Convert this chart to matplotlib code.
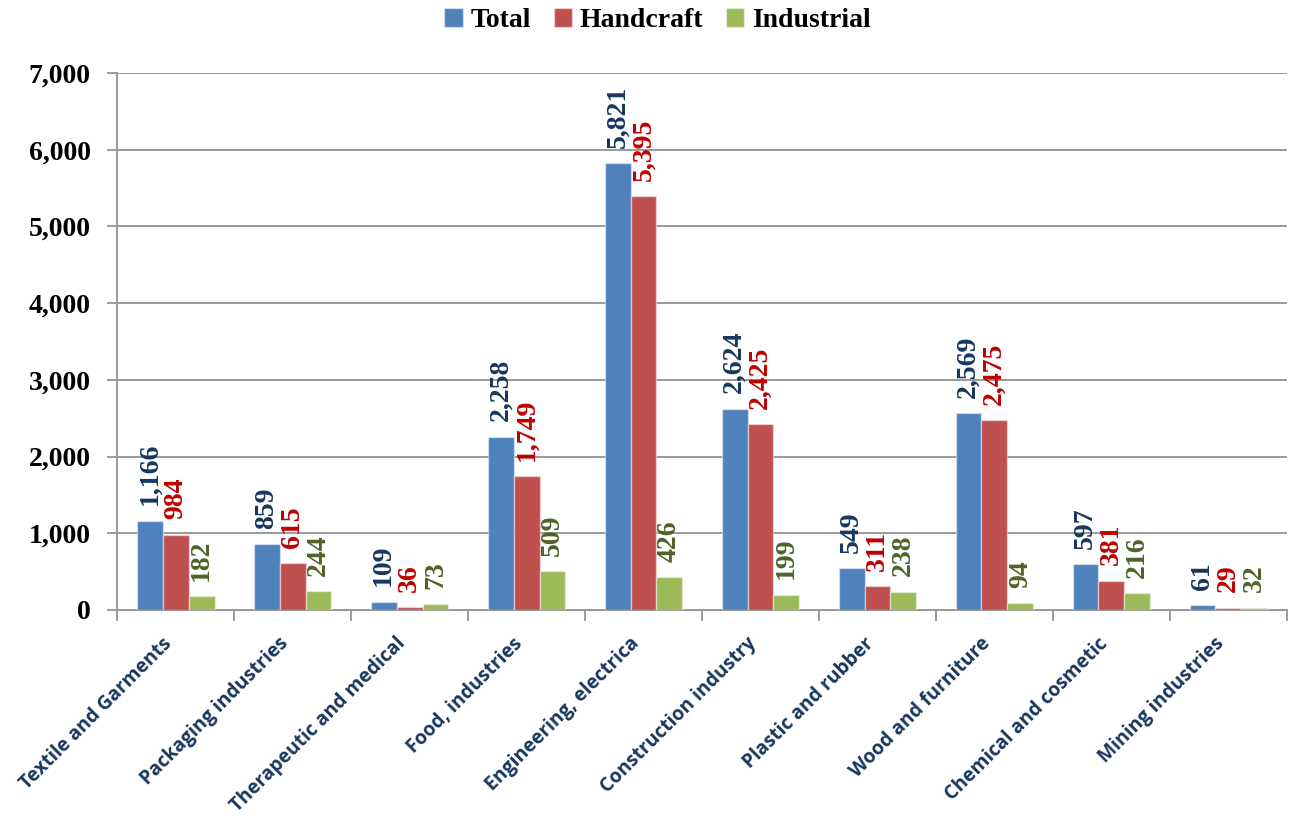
import matplotlib
matplotlib.use("Agg")
import matplotlib.pyplot as plt
import numpy as np
from matplotlib.ticker import FuncFormatter, FixedLocator

categories = ["Textile and Garments", "Packaging industries", "Therapeutic and medical",
              "Food, industries", "Engineering, electrica", "Construction industry",
              "Plastic and rubber", "Wood and furniture", "Chemical and cosmetic",
              "Mining industries"]
total = [1166, 859, 109, 2258, 5821, 2624, 549, 2569, 597, 61]
handcraft = [984, 615, 36, 1749, 5395, 2425, 311, 2475, 381, 29]
industrial = [182, 244, 73, 509, 426, 199, 238, 94, 216, 32]

series = [("Total", total, "#4F81BD", "#17375E"),
          ("Handcraft", handcraft, "#C0504D", "#C00000"),
          ("Industrial", industrial, "#9BBB59", "#4F6228")]

serif = ["Liberation Serif", "DejaVu Serif"]
grid_col = "#9A9A9A"

fig = plt.figure(figsize=(12.92, 8.19), dpi=100)
ax = fig.add_axes([0.0906, 0.2552, 0.9055, 0.6557])

x = np.arange(len(categories))
w = 0.222
for i, (name, vals, col, lab_col) in enumerate(series):
    pos = x + (i - 1) * w
    ax.bar(pos, vals, width=w, color=col, edgecolor=(1, 1, 1, 0.45), linewidth=1.0,
           label=name, zorder=3)
    for px, v in zip(pos, vals):
        ax.annotate(f"{v:,}", (px, v), xytext=(0, 11), textcoords="offset points",
                    ha="center", va="bottom", rotation=90, color=lab_col,
                    fontsize=20, fontweight="bold", family=serif, zorder=4)

ax.set_xlim(-0.5, len(categories) - 0.5)
ax.set_ylim(0, 7000)
ax.set_yticks(np.arange(0, 7001, 1000))
ax.yaxis.set_major_formatter(FuncFormatter(lambda v, p: f"{int(v):,}"))
ax.grid(axis="y", color=grid_col, linewidth=1.4, zorder=0)
ax.set_axisbelow(True)

for s in ["top", "right"]:
    ax.spines[s].set_visible(False)
for s in ["left", "bottom"]:
    ax.spines[s].set_color(grid_col)
    ax.spines[s].set_linewidth(1.4)

ax.tick_params(axis="y", length=7, width=1.4, color=grid_col, pad=12)
for t in ax.get_yticklabels():
    t.set_fontsize(20)
    t.set_fontweight("bold")
    t.set_family(serif)

ax.set_xticks(x)
ax.set_xticklabels(categories, rotation=45, ha="right", va="top",
                   fontsize=13.9, fontweight="bold", family=["Open Sans", "DejaVu Sans"],
                   color="#17375E")
ax.tick_params(axis="x", which="major", length=0, pad=17)
ax.xaxis.set_minor_locator(FixedLocator(np.arange(-0.5, len(categories), 1.0)))
ax.tick_params(axis="x", which="minor", length=8, width=1.4, color=grid_col)

leg = fig.legend(loc="center", bbox_to_anchor=(0.509, 0.975), ncol=3, frameon=False,
                 prop={"family": serif, "weight": "bold", "size": 20},
                 handlelength=0.65, handleheight=0.65, handletextpad=0.3, columnspacing=0.8)

fig.savefig("out.png", dpi=100)
